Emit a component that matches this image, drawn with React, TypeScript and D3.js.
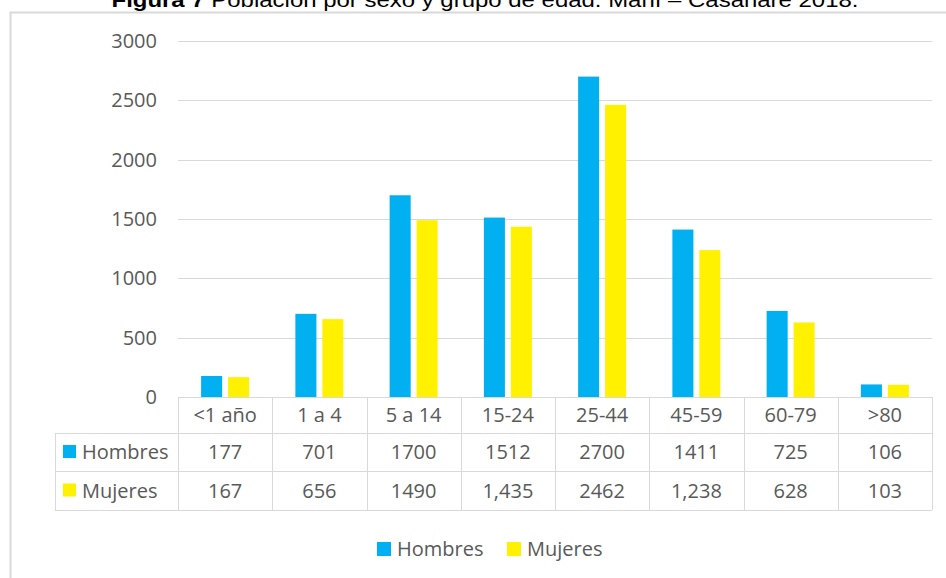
import React from "react";
import * as d3 from "d3";

const categories = ["<1 año", "1 a 4", "5 a 14", "15-24", "25-44", "45-59", "60-79", ">80"];
const seriesNames = ["Hombres", "Mujeres"];
const hombres = [177, 701, 1700, 1512, 2700, 1411, 725, 106];
const mujeres = [167, 656, 1490, 1435, 2462, 1238, 628, 103];
const hombresLabels = ["177", "701", "1700", "1512", "2700", "1411", "725", "106"];
const mujeresLabels = ["167", "656", "1490", "1,435", "2462", "1,238", "628", "103"];
const yTicks = [0, 500, 1000, 1500, 2000, 2500, 3000];
const colors = ["#00B0F0", "#FFF100"];
const titleBold = "Figura 7";
const titleRest = " Población por sexo y grupo de edad. Maní – Casanare 2018.";

const W = 946;
const H = 578;
const FONT = "'Open Sans', sans-serif";
const TXT = "#595959";
const GRID = "#d9d9d9";

export default function App() {
  const left = 178;
  const right = 932;
  const y = d3.scaleLinear().domain([0, 3000]).range([397, 41]);
  const x0 = d3
    .scaleBand<string>()
    .domain(categories)
    .range([left, right])
    .paddingInner(0)
    .paddingOuter(0);
  const step = x0.bandwidth();
  const groupW = 48;
  const x1 = d3
    .scaleBand<string>()
    .domain(seriesNames)
    .range([0, groupW])
    .paddingInner(0.22)
    .paddingOuter(0);
  const data = [hombres, mujeres];
  const labels = [hombresLabels, mujeresLabels];

  const headerTop = 397;
  const rowTops = [433, 471];
  const tableBottom = 510;
  const tableLeft = 55;

  return (
    <svg
      width={W}
      height={H}
      style={{ position: "absolute", left: 0, top: 0, display: "block", background: "#fff" }}
    >
      {/* title */}
      <text
        x={485}
        y={7}
        textAnchor="middle"
        fontFamily="'Liberation Sans', Arial, sans-serif"
        fontSize={21}
        fill="#000"
        textLength={747}
        lengthAdjust="spacingAndGlyphs"
      >
        <tspan fontWeight="bold">{titleBold}</tspan>
        <tspan>{titleRest}</tspan>
      </text>

      {/* chart frame */}
      <path d={`M10.5,${H} L10.5,12.5 L${W},12.5`} fill="none" stroke={GRID} strokeWidth={2} />

      {/* gridlines */}
      {yTicks.map((t) => (
        <line
          key={"g" + t}
          x1={left}
          x2={right}
          y1={Math.round(y(t)) + 0.5}
          y2={Math.round(y(t)) + 0.5}
          stroke={GRID}
          strokeWidth={1}
        />
      ))}
      {/* y tick labels */}
      {yTicks.map((t) => (
        <text
          key={"t" + t}
          x={157}
          y={y(t) + 7}
          textAnchor="end"
          fontFamily={FONT}
          fontSize={20}
          fill={TXT}
        >
          {t}
        </text>
      ))}

      {/* bars */}
      {categories.map((c, i) => {
        const cx = (x0(c) as number) + step / 2;
        return seriesNames.map((s, j) => {
          const v = data[j][i];
          const bx = cx - groupW / 2 + (x1(s) as number);
          return (
            <rect
              key={c + s}
              x={bx}
              y={y(v)}
              width={x1.bandwidth()}
              height={y(0) - y(v)}
              fill={colors[j]}
            />
          );
        });
      })}

      {/* data table lines */}
      <line x1={left} x2={right} y1={headerTop + 0.5} y2={headerTop + 0.5} stroke={GRID} />
      {rowTops.map((ry) => (
        <line key={"r" + ry} x1={tableLeft} x2={right} y1={ry + 0.5} y2={ry + 0.5} stroke={GRID} />
      ))}
      <line x1={tableLeft} x2={right} y1={tableBottom + 0.5} y2={tableBottom + 0.5} stroke={GRID} />
      <line x1={tableLeft + 0.5} x2={tableLeft + 0.5} y1={rowTops[0]} y2={tableBottom} stroke={GRID} />
      {d3.range(categories.length + 1).map((k) => {
        const lx = Math.round(left + k * step) + 0.5;
        return <line key={"v" + k} x1={lx} x2={lx} y1={headerTop} y2={tableBottom} stroke={GRID} />;
      })}

      {/* header labels */}
      {categories.map((c) => (
        <text
          key={"h" + c}
          x={(x0(c) as number) + step / 2}
          y={(headerTop + rowTops[0]) / 2 + 7}
          textAnchor="middle"
          fontFamily={FONT}
          fontSize={20}
          fill={TXT}
        >
          {c}
        </text>
      ))}

      {/* rows */}
      {seriesNames.map((s, j) => {
        const top = rowTops[j];
        const bottom = j === 0 ? rowTops[1] : tableBottom;
        const cy = (top + bottom) / 2;
        return (
          <g key={"row" + s}>
            <rect x={63} y={cy - 7} width={13} height={13} fill={colors[j]} />
            <text x={82} y={cy + 7} fontFamily={FONT} fontSize={20} fill={TXT}>
              {s}
            </text>
            {categories.map((c, i) => (
              <text
                key={s + c}
                x={(x0(c) as number) + step / 2}
                y={cy + 7}
                textAnchor="middle"
                fontFamily={FONT}
                fontSize={20}
                fill={TXT}
              >
                {labels[j][i]}
              </text>
            ))}
          </g>
        );
      })}

      {/* legend */}
      {seriesNames.map((s, j) => {
        const lx = j === 0 ? 377 : 507;
        return (
          <g key={"lg" + s}>
            <rect x={lx} y={542} width={14} height={14} fill={colors[j]} />
            <text x={lx + 20} y={556} fontFamily={FONT} fontSize={20} fill={TXT}>
              {s}
            </text>
          </g>
        );
      })}
    </svg>
  );
}
